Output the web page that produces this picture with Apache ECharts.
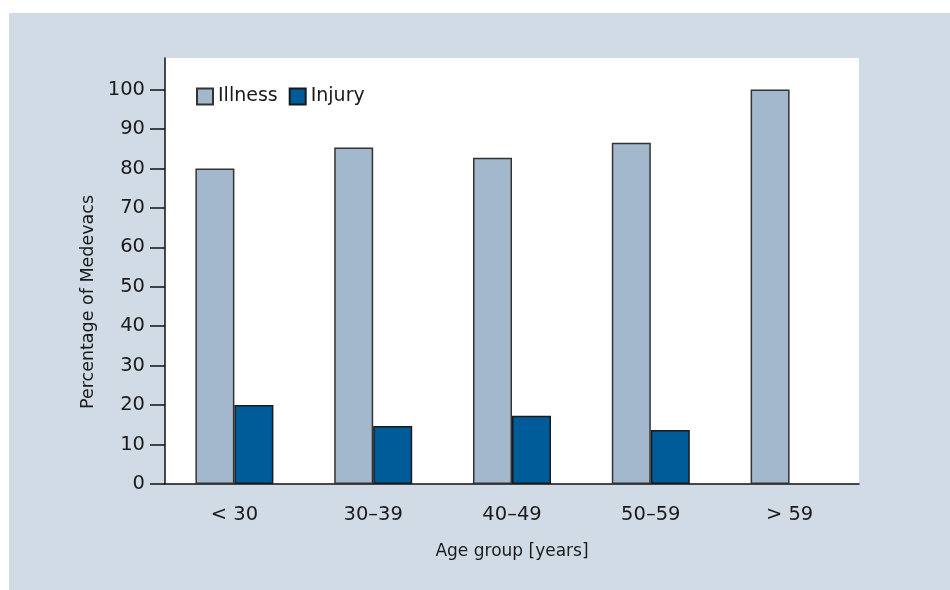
<!DOCTYPE html>
<html>
<head>
<meta charset="utf-8">
<script src="https://cdn.jsdelivr.net/npm/echarts@6/dist/echarts.min.js"></script>
<style>
  html, body { margin: 0; padding: 0; background: #fff; }
  #chart { width: 950px; height: 590px; }
</style>
</head>
<body>
<div id="chart"></div>
<script>
// data
const ageGroups = ['< 30', '30\u201339', '40\u201349', '50\u201359', '> 59'];
const illness = [80, 85.3, 82.7, 86.5, 100];
const injury = [20, 14.7, 17.3, 13.7, 0];
const yTicks = [0, 10, 20, 30, 40, 50, 60, 70, 80, 90, 100];

const font = '"DejaVu Sans", Verdana, sans-serif';
const chart = echarts.init(document.getElementById('chart'));

chart.setOption({
    backgroundColor: '#fff',
    animation: false,
    textStyle: {fontFamily: font},
    graphic: [
        {
            type: 'rect', z: -10, silent: true,
            shape: {x: 9, y: 13, width: 941, height: 577},
            style: {fill: '#d1dbe5'}
        },
        {
            type: 'text', silent: true,
            x: 88, y: 302, rotation: Math.PI / 2,
            style: {
                text: 'Percentage of Medevacs', font: '17.5px ' + font,
                fill: '#1a1a1a', align: 'center', verticalAlign: 'middle'
            }
        }
    ],
    grid: {
        left: 165, top: 58, right: 91, bottom: 106,
        show: true, backgroundColor: '#fff', borderWidth: 0
    },
    legend: {
        left: 191, top: 82,
        itemWidth: 16, itemHeight: 16, itemGap: 11,
        icon: 'rect',
        textStyle: {fontSize: 19, color: '#1a1a1a', fontFamily: font},
        data: ['Illness', 'Injury']
    },
    xAxis: {
        type: 'category',
        data: ageGroups,
        name: 'Age group [years]',
        nameLocation: 'middle',
        nameGap: 59,
        nameTextStyle: {fontSize: 17, color: '#1a1a1a'},
        axisLine: {lineStyle: {color: '#111', width: 1.5}},
        axisTick: {show: false},
        axisLabel: {fontSize: 19.5, color: '#1a1a1a', margin: 21}
    },
    yAxis: {
        type: 'value',
        min: 0, max: 108,
        splitLine: {show: false},
        axisLine: {show: true, lineStyle: {color: '#111', width: 1.5}},
        axisTick: {show: true, length: 15, customValues: yTicks, lineStyle: {color: '#111', width: 1.5}},
        axisLabel: {fontSize: 19.5, color: '#1a1a1a', margin: 20, customValues: yTicks}
    },
    series: [
        {
            name: 'Illness', type: 'bar', data: illness,
            barWidth: 39, barGap: '0%',
            itemStyle: {color: '#a3b8cc', borderColor: '#333', borderWidth: 1.5}
        },
        {
            name: 'Injury', type: 'bar',
            // a zero bar is not drawn at all in the original
            data: injury.map(v => (v === 0 ? '-' : v)),
            barWidth: 39,
            itemStyle: {color: '#005b99', borderColor: '#1a1a1a', borderWidth: 1.5}
        }
    ]
});
</script>
</body>
</html>
